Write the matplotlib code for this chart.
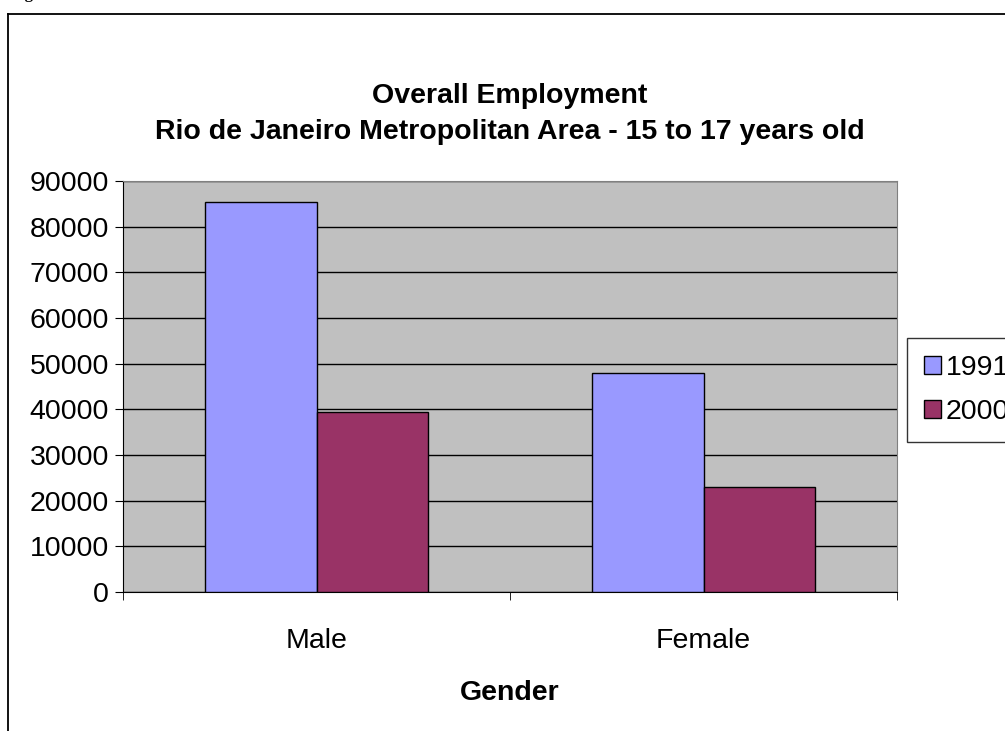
import matplotlib.pyplot as plt
from matplotlib.lines import Line2D

categories = ["Male", "Female"]
years = ["1991", "2000"]
values_1991 = [85300, 48000]
values_2000 = [39500, 23000]
colors = ["#9999FF", "#993366"]

plt.rcParams["font.family"] = ["Liberation Sans", "DejaVu Sans"]
FS = 20.5

fig = plt.figure(figsize=(10.05, 7.31), dpi=100)
W, H = 1005, 731

# outer frame of the chart object, cut by the page edges
fig.add_artist(Line2D([8 / W, 8 / W], [0, 1 - 14 / H], color="black", lw=1.3,
                      transform=fig.transFigure))
fig.add_artist(Line2D([8 / W, 1], [1 - 14 / H, 1 - 14 / H], color="black", lw=1.3,
                      transform=fig.transFigure))
fig.text(10 / W, 1 + 2 / H, "Figure 3.", family=["Liberation Serif"], fontweight="bold",
         fontsize=12, va="baseline", ha="left")

ax = fig.add_axes([123 / W, 1 - 592 / H, (897 - 123) / W, (592 - 181) / H])
ax.set_facecolor("#C0C0C0")

x = list(range(len(categories)))
bw = 0.287
ax.bar([i - bw / 2 for i in x], values_1991, width=bw, color=colors[0],
       edgecolor="black", linewidth=1, label=years[0], zorder=3)
ax.bar([i + bw / 2 for i in x], values_2000, width=bw, color=colors[1],
       edgecolor="black", linewidth=1, label=years[1], zorder=3)

ax.set_xlim(-0.5, len(categories) - 0.5)
ax.set_ylim(0, 90000)
ax.set_yticks(range(0, 90001, 10000))
ax.yaxis.grid(True, color="black", linewidth=1)
ax.set_axisbelow(True)

ax.set_xticks(x)
ax.set_xticklabels(categories, fontsize=FS)
ax.set_xticks([-0.5, 0.5, 1.5], minor=True)
ax.tick_params(axis="x", which="major", length=0, pad=26)
ax.tick_params(axis="x", which="minor", length=6, direction="out", color="black")
ax.tick_params(axis="y", length=6, direction="out", labelsize=FS, pad=4)

for s in ["left", "bottom"]:
    ax.spines[s].set_color("black")
for s in ["top", "right"]:
    ax.spines[s].set_color("#808080")

ax.set_xlabel("Gender", fontsize=FS, fontweight="bold")
ax.xaxis.set_label_coords(0.5, (592 - 680) / 411)
ax.xaxis.label.set_va("top")

fig.text(0.5 * (123 + 897) / W, 1 - 96 / H, "Overall Employment", ha="center", va="center",
         fontsize=FS, fontweight="bold")
fig.text(0.5 * (123 + 897) / W, 1 - 132 / H, "Rio de Janeiro Metropolitan Area - 15 to 17 years old",
         ha="center", va="center", fontsize=FS, fontweight="bold")

leg = ax.legend(loc="upper left", bbox_to_anchor=(907 / W, 1 - 338 / H),
                bbox_transform=fig.transFigure, fontsize=FS, frameon=True, fancybox=False,
                handlelength=0.6, handleheight=0.6, handletextpad=0.15, borderpad=0.6,
                labelspacing=0.62, borderaxespad=0)
leg.get_frame().set_edgecolor("black")
leg.get_frame().set_linewidth(1)

fig.savefig("out.png", dpi=100)
